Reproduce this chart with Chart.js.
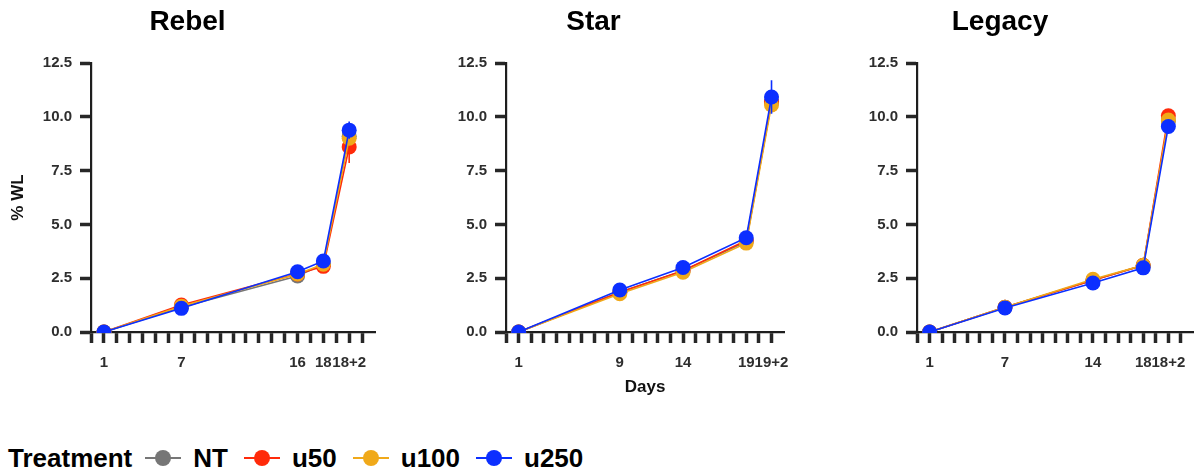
<!DOCTYPE html>
<html>
<head>
<meta charset="utf-8">
<script src="https://cdn.jsdelivr.net/npm/chart.js@4.4.1/dist/chart.umd.min.js"></script>
<style>
  html, body { margin: 0; padding: 0; background: #fff; }
  body { width: 1201px; height: 474px; position: relative; overflow: hidden;
         font-family: 'Liberation Sans', Arial, Helvetica, sans-serif; }
  canvas.panel { position: absolute; top: 0; }
  #legend { position: absolute; left: 8px; top: 440px; height: 36px; display: flex; align-items: center;
            font-weight: bold; font-size: 26px; color: #000; white-space: nowrap; }
  #legend .key { position: relative; width: 36px; height: 36px; margin: 0 12px 0 0; }
  #legend .key .ln { position: absolute; left: 0; right: 0; top: 17px; height: 2px; }
  #legend .key .dot { position: absolute; left: 10px; top: 10px; width: 16px; height: 16px; border-radius: 50%; }
  #legend .lbl { margin-right: 16px; }
  #legend .ttl { margin-right: 13px; }
</style>
</head>
<body>
<canvas id="rebel" class="panel" width="385" height="410" style="left:0px"></canvas>
<canvas id="star" class="panel" width="400" height="410" style="left:400px"></canvas>
<canvas id="legacy" class="panel" width="401" height="410" style="left:800px"></canvas>
<div id="legend"></div>

<script>
// Treatments and their colours
const treatments = ['NT', 'u50', 'u100', 'u250'];
const treatmentColors = ['#767676', '#ff2a0a', '#f0a91a', '#0c2fff'];

// Rebel: % weight loss by day (last point is day 18 + 2)
const rebelDays = [1, 7, 16, 18, 20];
const rebelDayLabels = ['1', '7', '16', '18', '18+2'];
const rebelNT   = [0, 1.15, 2.60, 3.15, 9.10];
const rebelU50  = [0, 1.25, 2.70, 3.05, 8.60];
const rebelU100 = [0, 1.20, 2.70, 3.15, 9.00];
const rebelU250 = [0, 1.10, 2.80, 3.30, 9.38];
const rebelNTErr   = [0, 0.05, 0.10, 0.10, 0.20];
const rebelU50Err  = [0, 0.05, 0.10, 0.10, 0.75];
const rebelU100Err = [0, 0.05, 0.10, 0.10, 0.25];
const rebelU250Err = [0, 0.05, 0.10, 0.10, 0.40];

// Star: % weight loss by day (last point is day 19 + 2)
const starDays = [1, 9, 14, 19, 21];
const starDayLabels = ['1', '9', '14', '19', '19+2'];
const starNT   = [0, 1.85, 2.85, 4.20, 10.70];
const starU50  = [0, 1.85, 2.85, 4.25, 10.70];
const starU100 = [0, 1.78, 2.78, 4.13, 10.55];
const starU250 = [0, 1.95, 3.00, 4.38, 10.92];
const starNTErr   = [0, 0.05, 0.10, 0.10, 0.30];
const starU50Err  = [0, 0.05, 0.10, 0.10, 0.30];
const starU100Err = [0, 0.05, 0.10, 0.10, 0.30];
const starU250Err = [0, 0.05, 0.10, 0.10, 0.78];

// Legacy: % weight loss by day (last point is day 18 + 2)
const legacyDays = [1, 7, 14, 18, 20];
const legacyDayLabels = ['1', '7', '14', '18', '18+2'];
const legacyNT   = [0, 1.15, 2.40, 3.10, 9.80];
const legacyU50  = [0, 1.15, 2.40, 3.10, 10.05];
const legacyU100 = [0, 1.15, 2.45, 3.10, 9.85];
const legacyU250 = [0, 1.12, 2.28, 2.98, 9.55];
const legacyNTErr   = [0, 0.05, 0.10, 0.10, 0.20];
const legacyU50Err  = [0, 0.05, 0.10, 0.10, 0.20];
const legacyU100Err = [0, 0.05, 0.10, 0.10, 0.20];
const legacyU250Err = [0, 0.05, 0.10, 0.10, 0.20];

// Axis ticks
const dayTicks = [0, 1, 2, 3, 4, 5, 6, 7, 8, 9, 10, 11, 12, 13, 14, 15, 16, 17, 18, 19, 20, 21];
const wlTicks = [0, 2.5, 5, 7.5, 10, 12.5];

const FONT = "'Liberation Sans', Arial, Helvetica, sans-serif";
const TICK_COLOR = '#2e2e2e';
const AXIS_COLOR = '#1e1e1e';

// Vertical error bars, drawn over each dataset's points
const errorBars = {
  id: 'errorBars',
  afterDatasetDraw(chart, args) {
    const ds = chart.data.datasets[args.index];
    if (!ds.errors) return;
    const y = chart.scales.y;
    const ctx = chart.ctx;
    const area = chart.chartArea;
    ctx.save();
    ctx.beginPath();
    ctx.rect(area.left, area.top, area.right - area.left, area.bottom - area.top);
    ctx.clip();
    ctx.strokeStyle = ds.borderColor;
    ctx.lineWidth = 1.6;
    args.meta.data.forEach((pt, i) => {
      const e = ds.errors[i];
      if (!e) return;
      const v = ds.data[i].y;
      ctx.beginPath();
      ctx.moveTo(pt.x, y.getPixelForValue(v - e));
      ctx.lineTo(pt.x, y.getPixelForValue(v + e));
      ctx.stroke();
    });
    ctx.restore();
  }
};

function makePanel(canvasId, title, days, dayLabels, values, errors, layout) {
  const datasets = treatments.map((name, k) => ({
    label: name,
    data: days.map((d, i) => ({ x: d, y: values[k][i] })),
    errors: errors[k],
    borderColor: treatmentColors[k],
    backgroundColor: treatmentColors[k],
    pointBackgroundColor: treatmentColors[k],
    pointBorderWidth: 0,
    pointRadius: 7.5,
    borderWidth: 1.6,
    tension: 0,
    clip: 1,
    order: treatments.length - 1 - k
  }));

  const gridOpts = {
    display: true, drawOnChartArea: false, drawTicks: true,
    tickLength: 11, tickWidth: 3.5, tickColor: '#272727'
  };
  const borderOpts = { display: true, color: AXIS_COLOR, width: 2.2 };

  return new Chart(document.getElementById(canvasId), {
    type: 'line',
    data: { datasets },
    plugins: [errorBars],
    options: {
      responsive: false,
      animation: false,
      devicePixelRatio: 1,
      layout: { padding: { left: 0, right: layout.padRight, top: 0, bottom: 0 } },
      plugins: {
        legend: { display: false },
        tooltip: { enabled: false },
        title: {
          display: true, text: title, color: '#000',
          font: { family: FONT, size: 28, weight: 'bold', lineHeight: 1.2 },
          padding: { top: 5, bottom: 24.4 }
        }
      },
      scales: {
        x: {
          type: 'linear', min: 0, max: 22,
          afterBuildTicks: s => { s.ticks = dayTicks.map(v => ({ value: v })); },
          afterFit: s => { s.height = 78; },
          ticks: {
            autoSkip: false, maxRotation: 0, minRotation: 0, padding: 11,
            color: TICK_COLOR, font: { family: FONT, size: 15, weight: 'bold' },
            callback: v => { const i = days.indexOf(v); return i >= 0 ? dayLabels[i] : ''; }
          },
          grid: gridOpts,
          border: borderOpts,
          title: {
            display: !!layout.xTitle, text: layout.xTitle || '', color: '#111',
            font: { family: FONT, size: 17, weight: 'bold', lineHeight: 1.2 },
            padding: { top: 0, bottom: 12 }
          }
        },
        y: {
          type: 'linear', min: 0, max: 12.5,
          afterBuildTicks: s => { s.ticks = wlTicks.map(v => ({ value: v })); },
          afterFit: s => { s.width = layout.yWidth; },
          ticks: {
            padding: 8, color: TICK_COLOR,
            font: { family: FONT, size: 15, weight: 'bold' },
            callback: v => Number(v).toFixed(1)
          },
          grid: gridOpts,
          border: borderOpts,
          title: {
            display: !!layout.yTitle, text: layout.yTitle || '', color: '#111',
            font: { family: FONT, size: 17, weight: 'bold', lineHeight: 1.2 },
            padding: { top: 8, bottom: 0 }
          }
        }
      }
    }
  });
}

makePanel('rebel', 'Rebel', rebelDays, rebelDayLabels,
  [rebelNT, rebelU50, rebelU100, rebelU250],
  [rebelNTErr, rebelU50Err, rebelU100Err, rebelU250Err],
  { padRight: 10, yWidth: 91, yTitle: '% WL' });

makePanel('star', 'Star', starDays, starDayLabels,
  [starNT, starU50, starU100, starU250],
  [starNTErr, starU50Err, starU100Err, starU250Err],
  { padRight: 13, yWidth: 106, xTitle: 'Days' });

makePanel('legacy', 'Legacy', legacyDays, legacyDayLabels,
  [legacyNT, legacyU50, legacyU100, legacyU250],
  [legacyNTErr, legacyU50Err, legacyU100Err, legacyU250Err],
  { padRight: 1, yWidth: 117 });

// Shared treatment legend
const legend = document.getElementById('legend');
const ttl = document.createElement('span');
ttl.className = 'ttl';
ttl.textContent = 'Treatment';
legend.appendChild(ttl);
treatments.forEach((name, k) => {
  const key = document.createElement('span');
  key.className = 'key';
  key.innerHTML = '<span class="ln" style="background:' + treatmentColors[k] + '"></span>' +
                  '<span class="dot" style="background:' + treatmentColors[k] + '"></span>';
  const lbl = document.createElement('span');
  lbl.className = 'lbl';
  lbl.textContent = name;
  legend.appendChild(key);
  legend.appendChild(lbl);
});
</script>
</body>
</html>
